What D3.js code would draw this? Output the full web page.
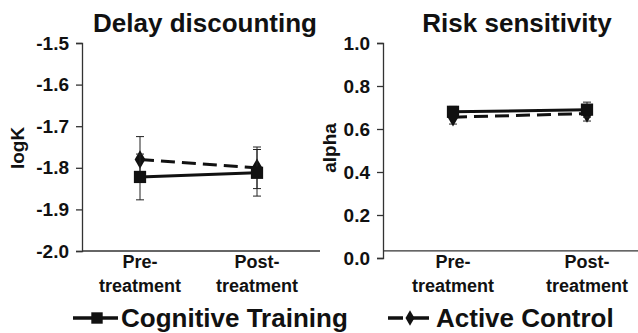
<!DOCTYPE html>
<html>
<head>
<meta charset="utf-8">
<script src="https://cdn.jsdelivr.net/npm/d3@7"></script>
<style>
body { margin: 0; background: #fff; }
svg text { font-family: "Liberation Sans", Arial, sans-serif; font-weight: bold; fill: #111; }
</style>
</head>
<body>
<script>
var width = 638;
var height = 333;

var phases = ["Pre-|treatment", "Post-|treatment"];
var delayTicks = [-1.5, -1.6, -1.7, -1.8, -1.9, -2.0];
var riskTicks = [1.0, 0.8, 0.6, 0.4, 0.2, 0.0];

// delay discounting (logK)
var delayCT = [-1.822, -1.812];
var delayCTerr = [0.055, 0.056];
var delayAC = [-1.780, -1.800];
var delayACerr = [0.055, 0.050];

// risk sensitivity (alpha)
var riskCT = [0.680, 0.690];
var riskCTerr = [0.025, 0.035];
var riskAC = [0.655, 0.672];
var riskACerr = [0.032, 0.035];

var legendNames = ["Cognitive Training", "Active Control"];

var fmt = d => d.toFixed(1);  // plain hyphen, not unicode minus

var svg = d3.select("body").append("svg")
    .attr("width", width)
    .attr("height", height);

var panels = [
    {
        title: "Delay discounting", label: "logK",
        ticks: delayTicks,
        domain: [-2.0, -1.5], yRange: [251, 43],
        axisX: 82, xEnd: 320, xPos: [140, 257], base: -2.0,
        titleX: 205, labelX: 18,
        series: [
            {vals: delayCT, err: delayCTerr, dash: null, shape: "square"},
            {vals: delayAC, err: delayACerr, dash: "14,7", shape: "diamond"},
        ],
    },
    {
        title: "Risk sensitivity", label: "alpha",
        ticks: riskTicks,
        domain: [0, 1.0], yRange: [258, 43],
        axisX: 383, xEnd: 638, xPos: [453, 587], base: 0.033,
        titleX: 517, labelX: 330,
        series: [
            {vals: riskCT, err: riskCTerr, dash: null, shape: "square"},
            {vals: riskAC, err: riskACerr, dash: "14,7", shape: "diamond"},
        ],
    },
];

panels.forEach(function(p) {
    var y = d3.scaleLinear().domain(p.domain).range(p.yRange);
    var x = d3.scalePoint().domain(phases).range(p.xPos);
    var g = svg.append("g");

    var yAxis = d3.axisLeft(y).tickValues(p.ticks).tickFormat(fmt)
        .tickSize(6).tickPadding(7);
    var ax = g.append("g")
        .attr("transform", `translate(${p.axisX}, 0)`)
        .call(yAxis);
    ax.select(".domain").attr("stroke", "#333").attr("stroke-width", 1.3);
    ax.selectAll(".tick line").attr("stroke", "#333").attr("stroke-width", 1.3);
    ax.selectAll(".tick text")
        .style("font-size", "19px")
        .style("font-family", "'Liberation Sans', Arial, sans-serif")
        .style("font-weight", "bold")
        .attr("fill", "#111");

    // horizontal axis line
    g.append("line")
        .attr("x1", p.axisX).attr("x2", p.xEnd)
        .attr("y1", y(p.base)).attr("y2", y(p.base))
        .attr("stroke", "#333").attr("stroke-width", 1.3);

    // category labels
    phases.forEach(function(c) {
        var parts = c.split("|");
        var t = g.append("text")
            .attr("text-anchor", "middle")
            .style("font-size", "18px");
        t.append("tspan").attr("x", x(c)).attr("y", 268).text(parts[0]);
        t.append("tspan").attr("x", x(c)).attr("y", 292).text(parts[1]);
    });

    g.append("text")
        .attr("x", p.titleX).attr("y", 32)
        .attr("text-anchor", "middle")
        .style("font-size", "26px")
        .text(p.title);

    g.append("text")
        .attr("transform", `translate(${p.labelX + 6}, 148) rotate(-90)`)
        .attr("text-anchor", "middle")
        .style("font-size", "19px")
        .text(p.label);

    var line = d3.line().x((d, i) => x(phases[i])).y(d => y(d));

    // draw active control first, training on top
    p.series.slice().reverse().forEach(function(s) {
        s.vals.forEach(function(v, i) {
            var cx = x(phases[i]);
            g.append("line")
                .attr("x1", cx).attr("x2", cx)
                .attr("y1", y(v + s.err[i])).attr("y2", y(v - s.err[i]))
                .attr("stroke", "#222").attr("stroke-width", 1);
            [v + s.err[i], v - s.err[i]].forEach(function(e) {
                g.append("line")
                    .attr("x1", cx - 4).attr("x2", cx + 4)
                    .attr("y1", y(e)).attr("y2", y(e))
                    .attr("stroke", "#222").attr("stroke-width", 1);
            });
        });
        g.append("path")
            .attr("d", line(s.vals))
            .attr("fill", "none")
            .attr("stroke", "#111")
            .attr("stroke-width", 3)
            .attr("stroke-dasharray", s.dash);
        var sym = s.shape === "square" ? d3.symbolSquare : d3.symbolDiamond;
        var sz = s.shape === "square" ? 150 : 100;
        g.selectAll(null).data(s.vals).enter().append("path")
            .attr("d", d3.symbol().type(sym).size(sz))
            .attr("transform", (d, i) => `translate(${x(phases[i])}, ${y(d)})`)
            .attr("fill", "#111");
    });
});

// legend
var legendItems = [
    {name: legendNames[0], dash: null, shape: "square", x1: 73, x2: 118, tx: 121},
    {name: legendNames[1], dash: "15,4,40", shape: "diamond", x1: 388, x2: 429, tx: 436},
];
var lg = svg.append("g");
legendItems.forEach(function(d) {
    lg.append("line")
        .attr("x1", d.x1).attr("x2", d.x2)
        .attr("y1", 318).attr("y2", 318)
        .attr("stroke", "#111").attr("stroke-width", 3.5)
        .attr("stroke-dasharray", d.dash);
    var sym = d.shape === "square" ? d3.symbolSquare : d3.symbolDiamond;
    lg.append("path")
        .attr("d", d3.symbol().type(sym).size(d.shape === "square" ? 130 : 70))
        .attr("transform", `translate(${d.shape === "square" ? 97 : 410}, 318)`)
        .attr("fill", "#111");
    lg.append("text")
        .attr("x", d.tx).attr("y", 327)
        .style("font-size", "26px")
        .text(d.name);
});
</script>
</body>
</html>
